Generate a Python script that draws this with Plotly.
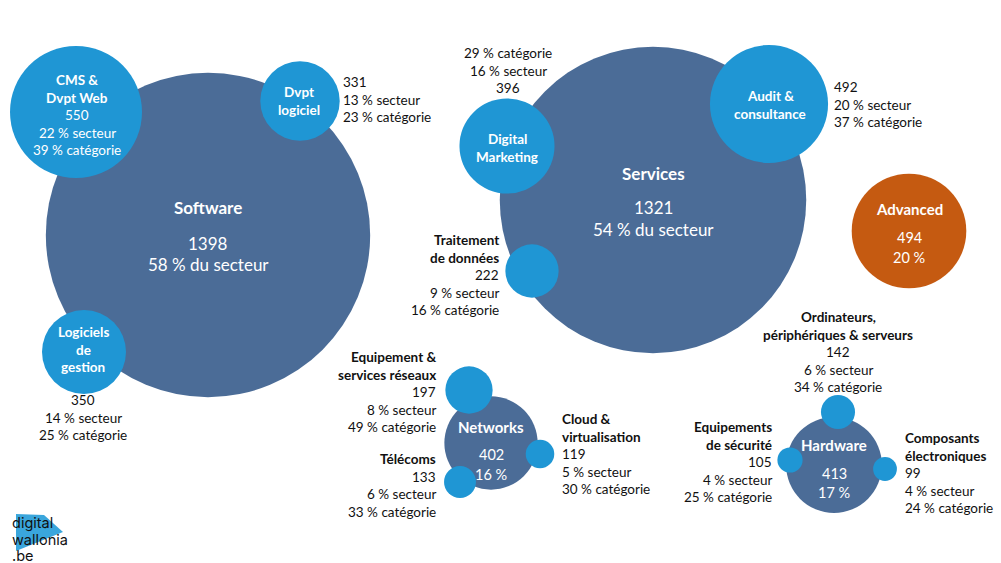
import plotly.graph_objects as go

# ---------------- data ----------------
sectors = ["Software", "Services", "Advanced", "Networks", "Hardware"]
sector_counts = [1398, 1321, 494, 402, 413]
sector_share = [58, 54, 20, 16, 17]

sub_names = [
    ["CMS &", "Dvpt Web"],
    ["Dvpt", "logiciel"],
    ["Logiciels", "de", "gestion"],
    ["Digital", "Marketing"],
    ["Audit &", "consultance"],
    ["Traitement", "de données"],
    ["Equipement &", "services réseaux"],
    ["Télécoms"],
    ["Cloud &", "virtualisation"],
    ["Ordinateurs,", "périphériques & serveurs"],
    ["Equipements", "de sécurité"],
    ["Composants", "électroniques"],
]
sub_parent = ["Software", "Software", "Software", "Services", "Services", "Services",
              "Networks", "Networks", "Networks", "Hardware", "Hardware", "Hardware"]
sub_counts = [550, 331, 350, 396, 492, 222, 197, 133, 119, 142, 105, 99]
sub_share_sector = [22, 13, 14, 16, 20, 9, 8, 6, 5, 6, 4, 4]
sub_share_cat = [39, 23, 25, 29, 37, 16, 49, 33, 30, 34, 25, 24]

# ---------------- layout (canvas pixel positions) ----------------
W, H = 1001, 563
FONT = "Lato"
DARK = "#4b6c97"
LIGHT = "#1f96d4"
ORANGE = "#c55a11"
SECTOR_SCALE = 0.232  # px of diameter per company
SUB_SCALE = 0.24

sector_x = [208, 653, 909, 491, 834]
sector_y = [235, 200, 231, 443, 465]
sector_color = [DARK, DARK, ORANGE, DARK, DARK]
sector_label_y = [[207, 243, 264], [173, 207, 229], [209, 237, 257],
                  [427, 454, 474], [445, 473, 492]]
sector_label_size = [[17, 17, 17], [17, 17, 17], [15, 14.5, 14.5], [15, 14.5, 14.5], [15, 14.5, 14.5]]
sector_label_long = [True, True, False, False, False]

sub_x = [76, 300, 84, 507, 769, 532, 469, 460, 540, 838, 790, 885]
sub_y = [112, 101, 352, 146, 104, 271, 390, 482, 454, 412, 460, 469]

# name block: (x, first-line y, anchor, inside?)  stats block: (x, first-line y, anchor, reversed?, inside?)
name_pos = [(77, 80, "center", True), (299, 92, "center", True), (83, 332, "center", True),
            (507, 139, "center", True), (770, 96, "center", True), (500, 240, "right", False),
            (437, 357, "right", False), (437, 459, "right", False), (561, 419, "left", False),
            (838, 317, "center", False), (773, 427, "right", False), (904, 438, "left", False)]
stats_pos = [(77, 115, "center", False, True), (342, 82, "left", False, False),
             (83, 400, "center", False, False), (508, 53, "center", True, False),
             (833, 87, "left", False, False), None, None, None, None, None, None, None]
LINE = 17.5
SMALL = 13.5

fig = go.Figure()

fig.add_trace(go.Scatter(
    x=sector_x, y=sector_y, mode="markers",
    marker=dict(size=sector_counts, sizemode="diameter", sizeref=1 / SECTOR_SCALE,
                color=sector_color, line=dict(width=0), opacity=1),
    hovertext=sectors, hoverinfo="text", showlegend=False))

fig.add_trace(go.Scatter(
    x=sub_x, y=sub_y, mode="markers",
    marker=dict(size=sub_counts, sizemode="diameter", sizeref=1 / SUB_SCALE,
                color=LIGHT, line=dict(width=0), opacity=1),
    hovertext=[" ".join(n) for n in sub_names], hoverinfo="text", showlegend=False))


def put(text, x, y, anchor, color, size, bold=False, family=FONT):
    fig.add_annotation(x=x, y=y, xref="x", yref="y", text=f"<b>{text}</b>" if bold else text,
                       xanchor=anchor, yanchor="middle", showarrow=False, borderpad=0,
                       font=dict(family=family, size=size, color=color))


# sector labels
for i, s in enumerate(sectors):
    pct = f"{sector_share[i]} % du secteur" if sector_label_long[i] else f"{sector_share[i]} %"
    lines = [(s, True), (str(sector_counts[i]), False), (pct, False)]
    for (t, b), yy, sz in zip(lines, sector_label_y[i], sector_label_size[i]):
        put(t, sector_x[i], yy, "center", "white", sz, b)

# sub-category labels
for i in range(len(sub_names)):
    stats = [str(sub_counts[i]), f"{sub_share_sector[i]} % secteur", f"{sub_share_cat[i]} % catégorie"]
    nx, ny, nanc, inside = name_pos[i]
    ncol = "white" if inside else "#111111"
    for k, t in enumerate(sub_names[i]):
        put(t, nx, ny + k * LINE, nanc, ncol, SMALL, True)
    if stats_pos[i] is None:
        sx, sy, sanc = nx, ny + len(sub_names[i]) * LINE, nanc
        rev, sin = False, inside
    else:
        sx, sy, sanc, rev, sin = stats_pos[i]
    if rev:
        stats = stats[::-1]
    scol = "white" if sin else "#111111"
    for k, t in enumerate(stats):
        put(t, sx, sy + k * LINE, sanc, scol, SMALL, False)

# logo
fig.add_shape(type="path", path="M 16 514 L 44 515 L 63 532 L 16 551 Z",
              fillcolor="#3aa6dc", line=dict(width=0), layer="below", xref="x", yref="y")
for t, yy in zip(["digital", "wallonia", ".be"], [523, 539, 555]):
    put(t, 11, yy, "left", "#111111", 14.5, False, "Inter")

fig.update_xaxes(range=[0, W], visible=False, fixedrange=True)
fig.update_yaxes(range=[H, 0], visible=False, fixedrange=True)
fig.update_layout(width=W, height=H, margin=dict(l=0, r=0, t=0, b=0),
                  plot_bgcolor="white", paper_bgcolor="white", showlegend=False)

fig.write_html("out.html", config={"displayModeBar": False},
               post_script="document.body.style.margin='0';document.body.style.padding='0';"
                           "document.body.style.overflow='hidden';")
